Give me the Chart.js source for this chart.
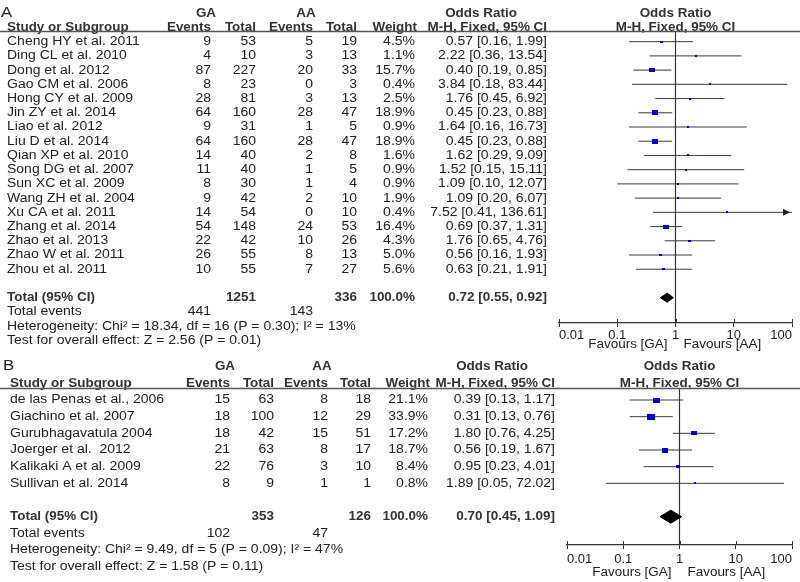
<!DOCTYPE html>
<html>
<head>
<meta charset="utf-8">
<script src="https://cdn.jsdelivr.net/npm/chart.js@4.4.1/dist/chart.umd.min.js"></script>
<style>
  body { margin: 0; background: #fff; }
  canvas { display: block; }
</style>
</head>
<body>
<canvas id="panel-a" width="800" height="355"></canvas>
<canvas id="panel-b" width="800" height="227"></canvas>
<script>
// ---- panel A data ----
const studiesA = ["Cheng HY et al. 2011", "Ding CL et al. 2010", "Dong et al. 2012", "Gao CM et al. 2006",
  "Hong CY et al. 2009", "Jin ZY et al. 2014", "Liao et al. 2012", "Liu D et al. 2014", "Qian XP et al. 2010",
  "Song DG et al. 2007", "Sun XC et al. 2009", "Wang ZH et al. 2004", "Xu CA et al. 2011", "Zhang et al. 2014",
  "Zhao et al. 2013", "Zhao W et al. 2011", "Zhou et al. 2011"];
const gaEventsA = [9, 4, 87, 8, 28, 64, 9, 64, 14, 11, 8, 9, 14, 54, 22, 26, 10];
const gaTotalA = [53, 10, 227, 23, 81, 160, 31, 160, 40, 40, 30, 42, 54, 148, 42, 55, 55];
const aaEventsA = [5, 3, 20, 0, 3, 28, 1, 28, 2, 1, 1, 2, 0, 24, 10, 8, 7];
const aaTotalA = [19, 13, 33, 3, 13, 47, 5, 47, 8, 5, 4, 10, 10, 53, 26, 13, 27];
const weightA = [4.5, 1.1, 15.7, 0.4, 2.5, 18.9, 0.9, 18.9, 1.6, 0.9, 0.9, 1.9, 0.4, 16.4, 4.3, 5.0, 5.6];
const orA = [0.57, 2.22, 0.40, 3.84, 1.76, 0.45, 1.64, 0.45, 1.62, 1.52, 1.09, 1.09, 7.52, 0.69, 1.76, 0.56, 0.63];
const lowA = [0.16, 0.36, 0.19, 0.18, 0.45, 0.23, 0.16, 0.23, 0.29, 0.15, 0.10, 0.20, 0.41, 0.37, 0.65, 0.16, 0.21];
const highA = [1.99, 13.54, 0.85, 83.44, 6.92, 0.88, 16.73, 0.88, 9.09, 15.11, 12.07, 6.07, 136.61, 1.31, 4.76, 1.93, 1.91];
const totalA = { ga: 1251, aa: 336, weight: 100.0, or: 0.72, low: 0.55, high: 0.92, gaEvents: 441, aaEvents: 143 };
const heteroA = "Heterogeneity: Chi\u00b2 = 18.34, df = 16 (P = 0.30); I\u00b2 = 13%";
const overallA = "Test for overall effect: Z = 2.56 (P = 0.01)";

// ---- panel B data ----
const studiesB = ["de las Penas et al., 2006", "Giachino et al. 2007", "Gurubhagavatula 2004",
  "Joerger et al.  2012", "Kalikaki A et al. 2009", "Sullivan et al. 2014"];
const gaEventsB = [15, 18, 18, 21, 22, 8];
const gaTotalB = [63, 100, 42, 63, 76, 9];
const aaEventsB = [8, 12, 15, 8, 3, 1];
const aaTotalB = [18, 29, 51, 17, 10, 1];
const weightB = [21.1, 33.9, 17.2, 18.7, 8.4, 0.8];
const orB = [0.39, 0.31, 1.80, 0.56, 0.95, 1.89];
const lowB = [0.13, 0.13, 0.76, 0.19, 0.23, 0.05];
const highB = [1.17, 0.76, 4.25, 1.67, 4.01, 72.02];
const totalB = { ga: 353, aa: 126, weight: 100.0, or: 0.70, low: 0.45, high: 1.09, gaEvents: 102, aaEvents: 47 };
const heteroB = "Heterogeneity: Chi\u00b2 = 9.49, df = 5 (P = 0.09); I\u00b2 = 47%";
const overallB = "Test for overall effect: Z = 1.58 (P = 0.11)";

const axisTicks = [0.01, 0.1, 1, 10, 100];

const FONT = '"Liberation Sans", Arial, sans-serif';
const STRETCH = 1.12;
const BLUE = "#0000c8";
const INK = "#222";

// pixel layout for each panel (not data)
const layoutA = {
  letter: "A", top: 32, bottom: 323, left: 559, right: 792, axisHeight: 20,
  rowMin: -0.68, rowMax: 19.78, tickPad: 1, favoursGap: 22, diamondHalf: 0.32,
  cols: { name: 7, gaEv: 211, gaTot: 256, aaEv: 313, aaTot: 357, weight: 415, or: 547 },
  gaCenter: 206, aaCenter: 306, orHead: 481, letterX: 1
};
const layoutB = {
  letter: "B", top: 34, bottom: 190, left: 567, right: 792, axisHeight: 20,
  rowMin: -0.66, rowMax: 8.7, tickPad: 3, favoursGap: 28, diamondHalf: 0.39,
  cols: { name: 10, gaEv: 230, gaTot: 274, aaEv: 328, aaTot: 371, weight: 428, or: 555 },
  gaCenter: 225, aaCenter: 322, orHead: 492, letterX: 3
};

function text(ctx, s, x, y, align, bold, size) {
  ctx.save();
  ctx.font = (bold ? "bold " : "") + (size || 12.5) + "px " + FONT;
  ctx.fillStyle = bold ? "#333" : INK;
  ctx.textBaseline = "middle";
  ctx.textAlign = align;
  ctx.translate(x, y);
  ctx.scale(STRETCH, 1);
  ctx.fillText(s, 0, 0);
  ctx.restore();
}

function ciText(or, lo, hi) {
  return or.toFixed(2) + " [" + lo.toFixed(2) + ", " + hi.toFixed(2) + "]";
}

// weight box as a small canvas, slightly wider than tall like the original
function makeBox(weight) {
  const c = document.createElement("canvas");
  c.width = Math.max(2, Math.round(1.45 * Math.sqrt(weight)));
  c.height = Math.max(2, Math.round(1.05 * Math.sqrt(weight)));
  const g = c.getContext("2d");
  g.fillStyle = BLUE;
  g.fillRect(0, 0, c.width, c.height);
  return c;
}

function tablePlugin(p, lay) {
  return {
    id: "forestTable" + lay.letter,
    afterDraw(chart) {
      const ctx = chart.ctx;
      const y = (row) => chart.scales.y.getPixelForValue(row);
      const xs = chart.scales.x;
      const area = chart.chartArea;
      const c = lay.cols;
      const n = p.studies.length;

      // headers
      text(ctx, lay.letter, lay.letterX, y(-2.05), "left", false, 15);
      text(ctx, "GA", lay.gaCenter, y(-2), "center", true, 12);
      text(ctx, "AA", lay.aaCenter, y(-2), "center", true, 12);
      text(ctx, "Odds Ratio", lay.orHead, y(-2), "center", true, 12);
      text(ctx, "Odds Ratio", xs.getPixelForValue(1), y(-2), "center", true, 12);
      text(ctx, "Study or Subgroup", c.name, y(-1), "left", true, 12);
      text(ctx, "Events", c.gaEv, y(-1), "right", true, 12);
      text(ctx, "Total", c.gaTot, y(-1), "right", true, 12);
      text(ctx, "Events", c.aaEv, y(-1), "right", true, 12);
      text(ctx, "Total", c.aaTot, y(-1), "right", true, 12);
      text(ctx, "Weight", c.weight + 2, y(-1), "right", true, 12);
      text(ctx, "M-H, Fixed, 95% CI", c.or, y(-1), "right", true, 12);
      text(ctx, "M-H, Fixed, 95% CI", xs.getPixelForValue(1), y(-1), "center", true, 12);

      ctx.save();
      ctx.strokeStyle = "#555";
      ctx.lineWidth = 1.5;
      ctx.beginPath();
      ctx.moveTo(0, area.top - 0.5);
      ctx.lineTo(800, area.top - 0.5);
      ctx.stroke();
      ctx.restore();

      // study rows
      p.studies.forEach((name, i) => {
        text(ctx, name, c.name, y(i), "left");
        text(ctx, String(p.gaEvents[i]), c.gaEv, y(i), "right");
        text(ctx, String(p.gaTotal[i]), c.gaTot, y(i), "right");
        text(ctx, String(p.aaEvents[i]), c.aaEv, y(i), "right");
        text(ctx, String(p.aaTotal[i]), c.aaTot, y(i), "right");
        text(ctx, p.weight[i].toFixed(1) + "%", c.weight, y(i), "right");
        text(ctx, ciText(p.or[i], p.low[i], p.high[i]), c.or, y(i), "right");
        if (p.high[i] > xs.max) {
          // arrow for a CI running off the scale
          const tip = area.right - 2;
          ctx.save();
          ctx.fillStyle = "#222";
          ctx.beginPath();
          ctx.moveTo(tip, y(i));
          ctx.lineTo(tip - 7, y(i) - 3.5);
          ctx.lineTo(tip - 7, y(i) + 3.5);
          ctx.closePath();
          ctx.fill();
          ctx.restore();
        }
      });

      // totals
      const t = p.total;
      text(ctx, "Total (95% CI)", c.name, y(n + 1), "left", true, 12);
      text(ctx, String(t.ga), c.gaTot, y(n + 1), "right", true, 12);
      text(ctx, String(t.aa), c.aaTot, y(n + 1), "right", true, 12);
      text(ctx, t.weight.toFixed(1) + "%", c.weight, y(n + 1), "right", true, 12);
      text(ctx, ciText(t.or, t.low, t.high), c.or, y(n + 1), "right", true, 12);
      text(ctx, "Total events", c.name, y(n + 2), "left");
      text(ctx, String(t.gaEvents), c.gaEv, y(n + 2), "right");
      text(ctx, String(t.aaEvents), c.aaEv, y(n + 2), "right");
      text(ctx, p.hetero, c.name, y(n + 3), "left");
      text(ctx, p.overall, c.name, y(n + 4), "left");

      // tick marks above the axis line
      ctx.save();
      ctx.strokeStyle = "#333";
      ctx.lineWidth = 1;
      xs.ticks.forEach((tk) => {
        const px = Math.round(xs.getPixelForValue(tk.value)) + 0.5;
        ctx.beginPath();
        ctx.moveTo(px, area.bottom - 4);
        ctx.lineTo(px, area.bottom);
        ctx.stroke();
      });
      ctx.restore();

      const x1 = xs.getPixelForValue(1);
      text(ctx, "Favours [GA]", x1 - 8, area.bottom + lay.favoursGap, "right", false, 12);
      text(ctx, "Favours [AA]", x1 + 8, area.bottom + lay.favoursGap, "left", false, 12);
    }
  };
}

function drawPanel(canvasId, p, lay) {
  const canvas = document.getElementById(canvasId);
  const n = p.studies.length;
  const totalRow = n + 1;

  const boxes = {
    type: "scatter",
    data: p.or.map((v, i) => ({ x: v, y: i })),
    pointStyle: p.weight.map(makeBox),
    pointRadius: 3,
    showLine: false
  };
  const diamond = {
    type: "line",
    data: [
      { x: p.total.low, y: totalRow },
      { x: p.total.or, y: totalRow - lay.diamondHalf },
      { x: p.total.high, y: totalRow },
      { x: p.total.or, y: totalRow + lay.diamondHalf },
      { x: p.total.low, y: totalRow }
    ],
    borderColor: "#000",
    backgroundColor: "#000",
    borderWidth: 1,
    fill: "shape",
    pointRadius: 0,
    tension: 0
  };
  const ciLines = p.studies.map((s, i) => ({
    type: "line",
    data: [{ x: p.low[i], y: i }, { x: p.high[i], y: i }],
    borderColor: "#3a3a3a",
    borderWidth: 1,
    pointRadius: 0
  }));
  const nullLine = {
    type: "line",
    data: [{ x: 1, y: lay.rowMin }, { x: 1, y: lay.rowMax }],
    borderColor: "#333",
    borderWidth: 1.2,
    pointRadius: 0
  };

  return new Chart(canvas, {
    type: "scatter",
    data: { datasets: [boxes, diamond, ...ciLines, nullLine] },
    options: {
      responsive: false,
      animation: false,
      devicePixelRatio: 1,
      layout: {
        padding: {
          left: lay.left,
          right: 800 - lay.right,
          top: lay.top,
          bottom: canvas.height - lay.bottom - lay.axisHeight
        }
      },
      plugins: { legend: { display: false }, tooltip: { enabled: false } },
      scales: {
        x: {
          type: "logarithmic",
          min: 0.01,
          max: 100,
          afterBuildTicks: (scale) => {
            scale.ticks = axisTicks.map((v) => ({ value: v }));
          },
          afterFit: (scale) => {
            scale.height = lay.axisHeight;
            scale.paddingLeft = 0;
            scale.paddingRight = 0;
          },
          ticks: {
            autoSkip: false,
            maxRotation: 0,
            align: "inner",
            padding: lay.tickPad,
            color: INK,
            font: { family: FONT, size: 13 },
            callback: (v) => String(v)
          },
          grid: { drawOnChartArea: false, drawTicks: true, tickLength: 4, color: "#333" },
          border: { display: true, color: "#333", width: 1.2 }
        },
        y: {
          type: "linear",
          reverse: true,
          min: lay.rowMin,
          max: lay.rowMax,
          display: false
        }
      }
    },
    plugins: [tablePlugin(p, lay)]
  });
}

drawPanel("panel-a", {
  studies: studiesA, gaEvents: gaEventsA, gaTotal: gaTotalA, aaEvents: aaEventsA, aaTotal: aaTotalA,
  weight: weightA, or: orA, low: lowA, high: highA, total: totalA, hetero: heteroA, overall: overallA
}, layoutA);

drawPanel("panel-b", {
  studies: studiesB, gaEvents: gaEventsB, gaTotal: gaTotalB, aaEvents: aaEventsB, aaTotal: aaTotalB,
  weight: weightB, or: orB, low: lowB, high: highB, total: totalB, hetero: heteroB, overall: overallB
}, layoutB);
</script>
</body>
</html>
